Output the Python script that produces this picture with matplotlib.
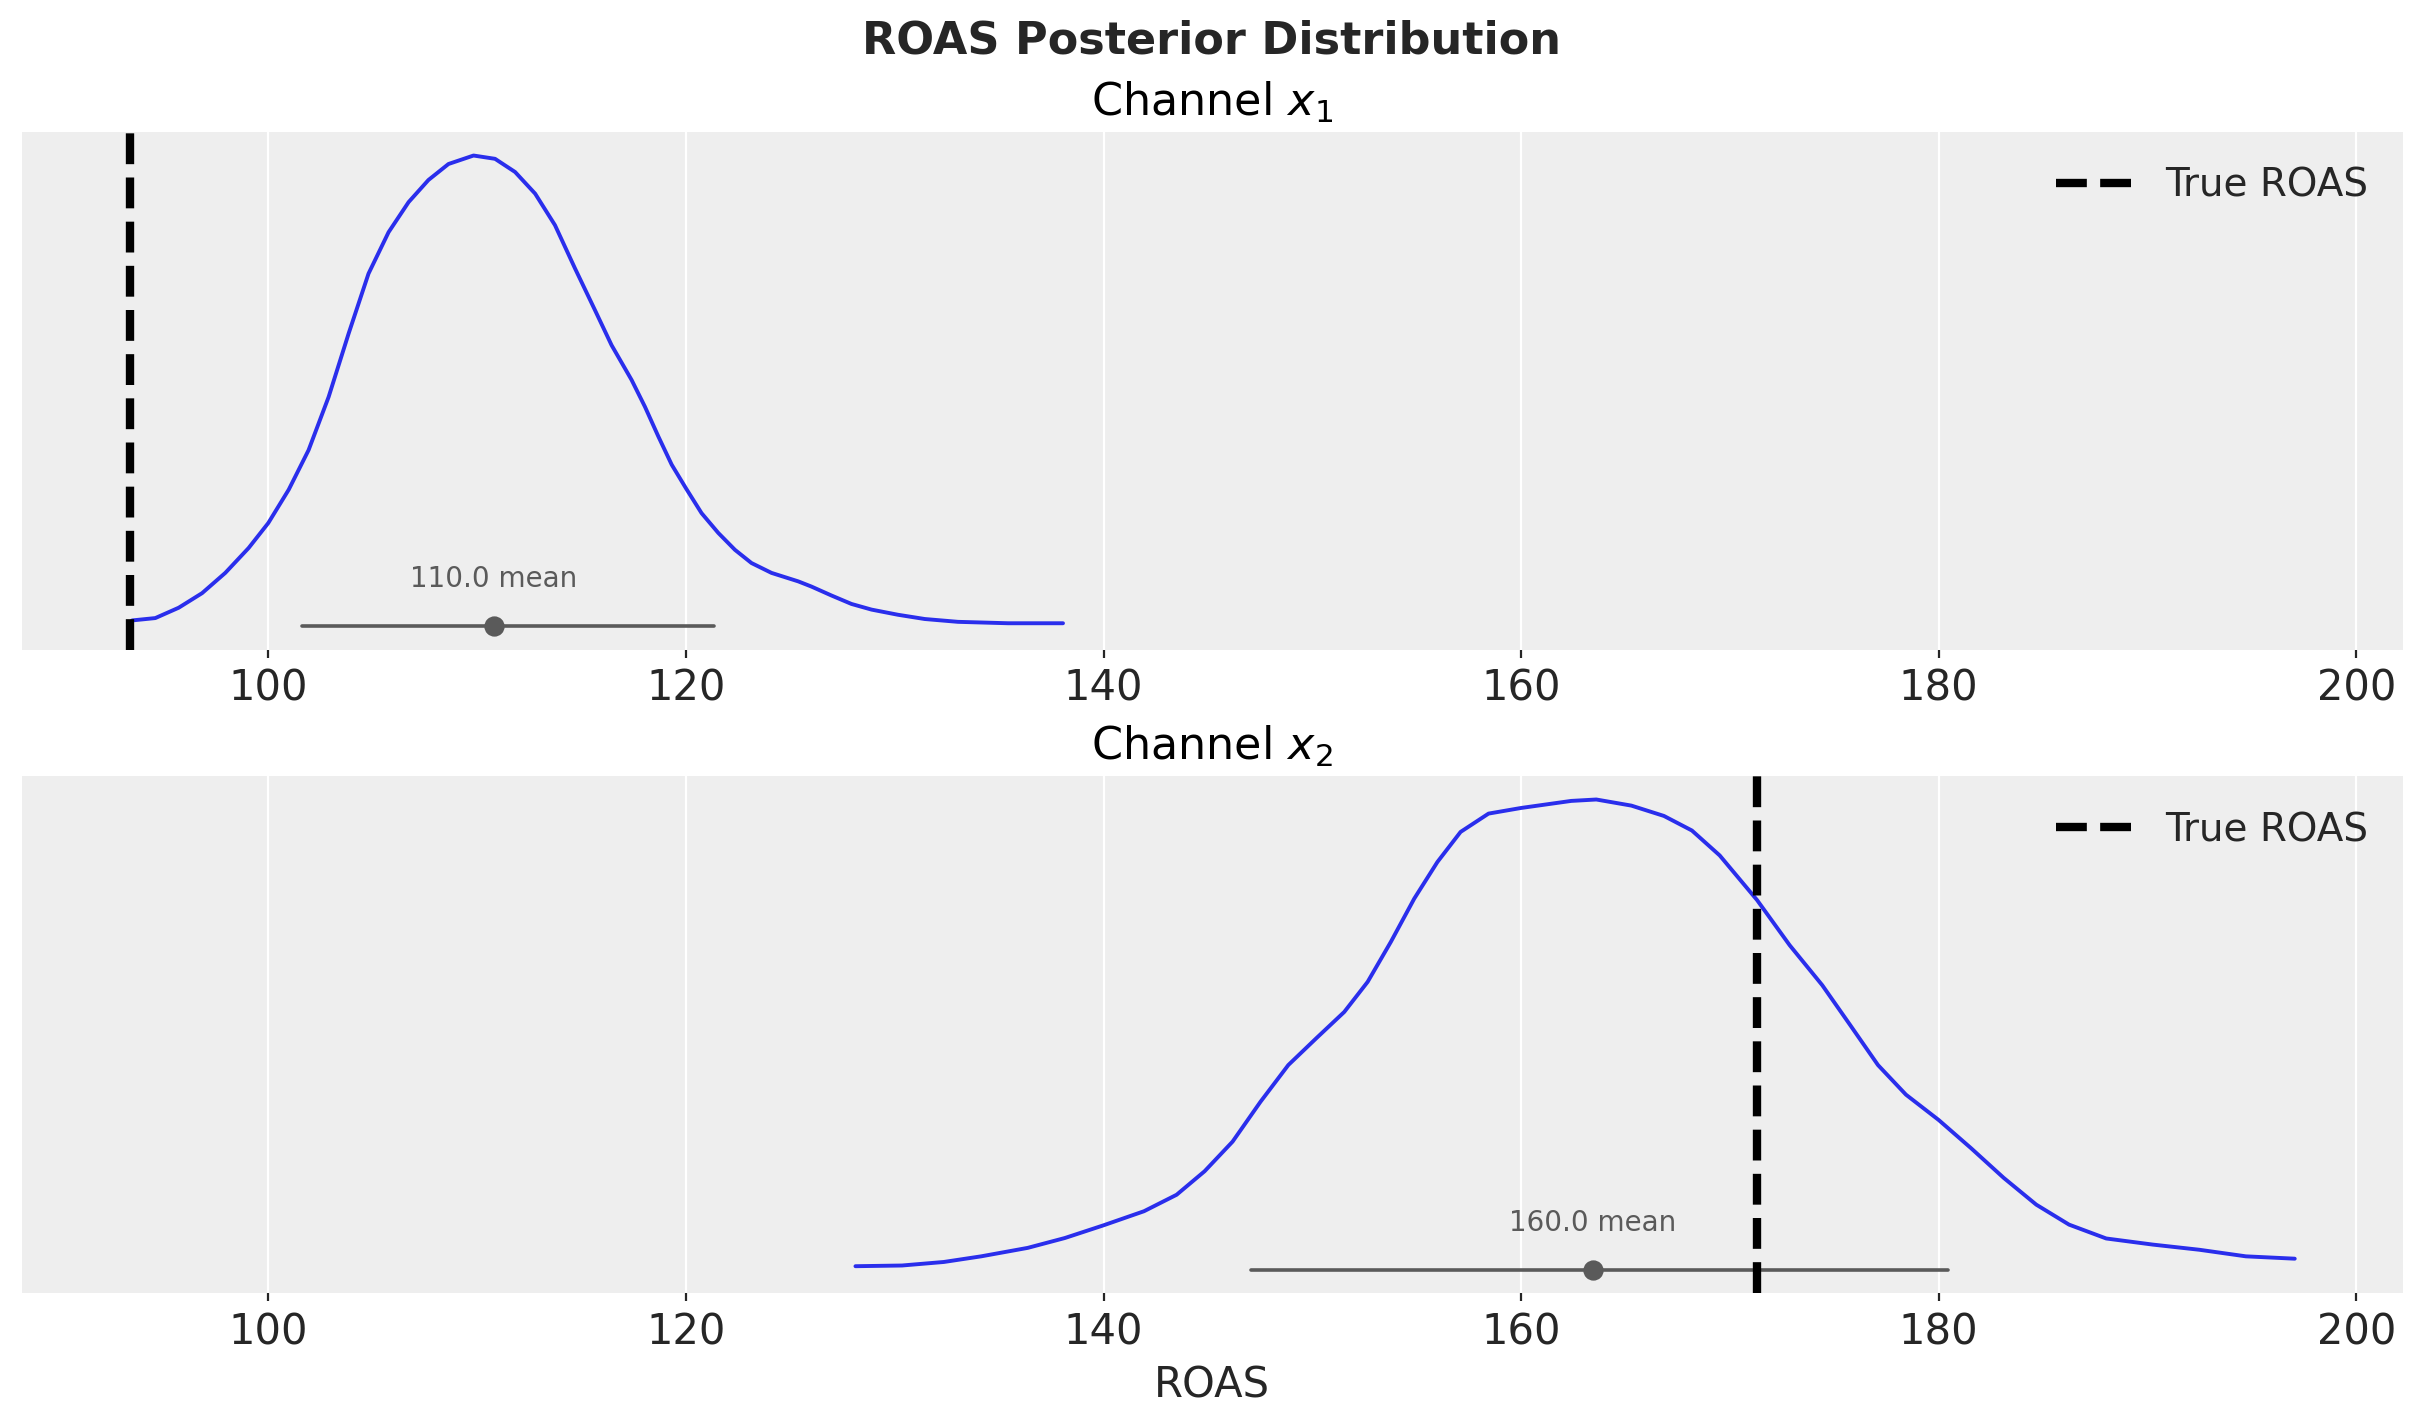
import matplotlib
matplotlib.use("Agg")
import matplotlib.pyplot as plt

# ---------------- data ----------------
channels = ["Channel $x_1$", "Channel $x_2$"]

x1 = [93.48, 94.59, 95.71, 96.83, 97.94, 99.06, 100.0, 100.98, 101.93, 102.89,
      103.85, 104.8, 105.76, 106.72, 107.67, 108.63, 109.83, 110.86, 111.82, 112.78,
      113.73, 114.69, 115.65, 116.44, 117.4, 118.04, 118.68, 119.32, 120.0, 120.75,
      121.55, 122.35, 123.14, 124.1, 125.38, 126.01, 126.97, 127.93, 128.89, 130.16,
      131.44, 133.03, 135.43, 138.06]
d1 = [0.012, 0.017, 0.039, 0.070, 0.113, 0.166, 0.219, 0.290, 0.374, 0.487,
      0.622, 0.749, 0.837, 0.901, 0.948, 0.982, 1.0, 0.993, 0.965, 0.919,
      0.852, 0.760, 0.671, 0.597, 0.523, 0.466, 0.403, 0.343, 0.293, 0.240,
      0.198, 0.162, 0.134, 0.113, 0.095, 0.084, 0.065, 0.047, 0.035, 0.024,
      0.015, 0.009, 0.006, 0.006]

x2 = [128.12, 130.35, 132.35, 134.14, 136.37, 138.15, 140.0, 141.94, 143.5, 144.84,
      146.18, 147.52, 148.85, 150.19, 151.53, 152.65, 153.76, 154.88, 155.99, 157.1,
      158.44, 160.0, 162.4, 163.6, 165.28, 166.84, 168.18, 169.51, 171.3, 172.86,
      174.42, 175.76, 177.09, 178.43, 180.0, 181.55, 183.11, 184.67, 186.24, 188.02,
      190.25, 192.48, 194.71, 197.05]
d2 = [0.007, 0.0085, 0.016, 0.028, 0.046, 0.067, 0.094, 0.124, 0.159, 0.209,
      0.272, 0.357, 0.435, 0.492, 0.548, 0.612, 0.697, 0.789, 0.867, 0.931,
      0.970, 0.982, 0.997, 1.0, 0.987, 0.965, 0.934, 0.881, 0.786, 0.690,
      0.605, 0.520, 0.435, 0.372, 0.318, 0.258, 0.195, 0.138, 0.0955, 0.066,
      0.053, 0.042, 0.028, 0.023]

hdi_low = [101.61, 147.07]
hdi_high = [121.34, 180.44]
means = [110.81, 163.43]
mean_labels = ["110.0 mean", "160.0 mean"]
true_roas = [93.37, 171.32]
xticks = [100, 120, 140, 160, 180, 200]

xs = [x1, x2]
ds = [d1, d2]

# ---------------- style ----------------
BLUE = "#2a2eec"
GRAY = "#5a5a5a"
TXT = "#262626"
BG = "#eeeeee"

plt.rcParams["font.family"] = ["DejaVu Sans"]

W, H = 2423, 1423
fig = plt.figure(figsize=(W / 200, H / 200), dpi=200, facecolor="white")

left = 21.6 / W
width = (2403 - 21.6) / W
boxes = [(132, 649.6), (776, 1293)]

axes = []
for i, (top, bot) in enumerate(boxes):
    ax = fig.add_axes([left, 1 - bot / H, width, (bot - top) / H],
                      sharex=axes[0] if axes else None)
    axes.append(ax)

for i, ax in enumerate(axes):
    ax.set_facecolor(BG)
    for s in ax.spines.values():
        s.set_visible(False)
    ax.set_axisbelow(True)
    ax.grid(axis="x", color="white", linewidth=0.8)
    ax.grid(axis="y", visible=False)

    ax.plot(xs[i], ds[i], color=BLUE, lw=1.4, zorder=3,
            solid_joinstyle="round", solid_capstyle="round")
    ax.plot([hdi_low[i], hdi_high[i]], [0, 0], color=GRAY, lw=1.3,
            solid_capstyle="round", zorder=3)
    ax.plot([means[i]], [0], marker="o", ms=6.3, color=GRAY, zorder=4)
    ax.text(means[i], 0.082, mean_labels[i], ha="center", va="baseline",
            fontsize=10, color=GRAY, zorder=4)
    ax.axvline(true_roas[i], color="black", ls="--", lw=3, label="True ROAS",
               zorder=5)

    ax.set_yticks([])
    ax.set_xticks(xticks)
    ax.tick_params(axis="x", labelsize=15, labelcolor=TXT, color=TXT,
                   length=3, width=0.8, pad=3.6, labelbottom=True)
    ax.set_title(channels[i], fontsize=16, color="black", pad=6)
    ax.legend(loc="upper right", fontsize=14, frameon=False,
              labelcolor=TXT)

axes[1].set_xlabel("ROAS", fontsize=15, color=TXT)
fig.suptitle("ROAS Posterior Distribution", fontsize=16, fontweight="bold",
             color=TXT, y=1 - 19 / H, va="top")

fig.savefig("out.png", dpi=200, facecolor="white")
